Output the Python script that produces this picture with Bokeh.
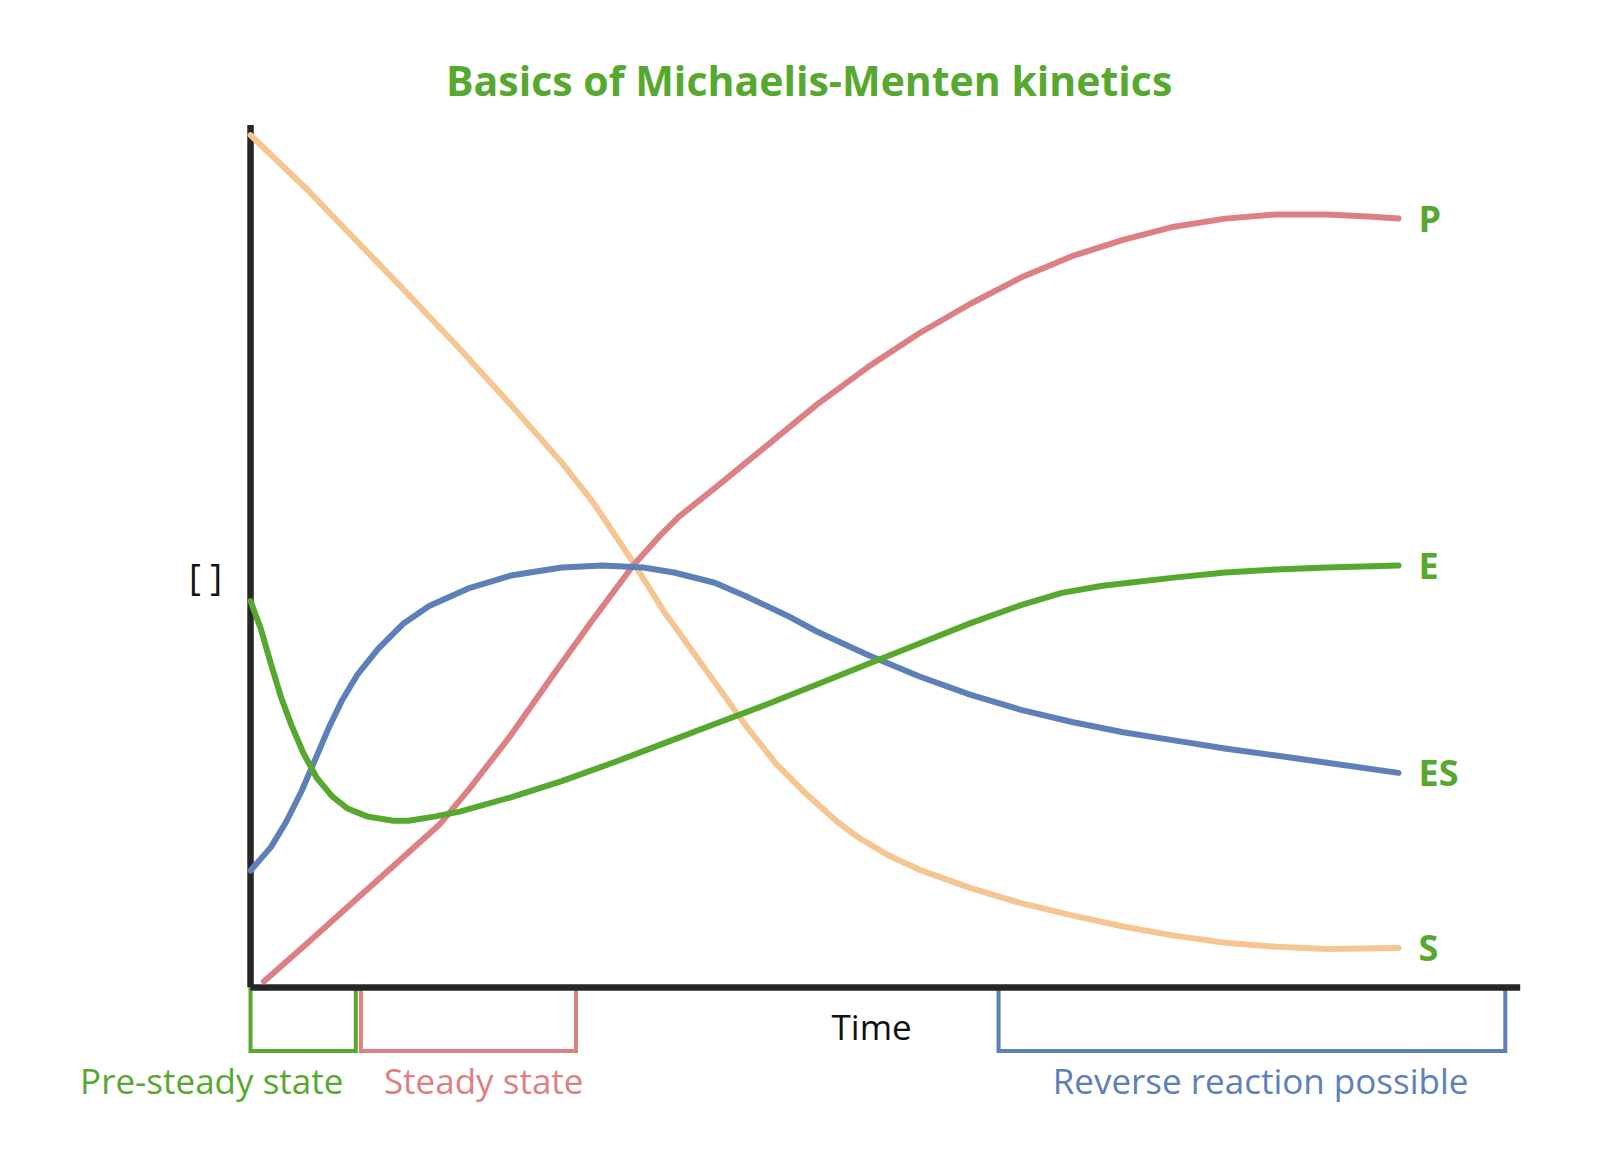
from bokeh.plotting import figure
from bokeh.models import Range1d, Label
from bokeh.core.properties import value
from bokeh.embed import file_html
from bokeh.resources import INLINE

# ---- data (time in arbitrary units 0..100, concentration 0..100) ----
s_t = [0, 4.89, 9.33, 13.78, 18.22, 22.67, 27.11, 29.78, 33.33, 36.0, 38.67, 40.44, 43.11,
       45.78, 48.44, 51.11, 52.89, 55.56, 58.22, 62.67, 67.11, 71.56, 76.0, 80.44, 84.89,
       89.33, 93.78, 100]
s_c = [100, 93.68, 87.47, 81.26, 74.94, 68.38, 61.58, 57.04, 49.88, 44.15, 39.14, 35.80, 30.79,
       26.25, 22.67, 19.45, 17.66, 15.51, 13.84, 11.69, 9.90, 8.47, 7.16, 6.09, 5.25,
       4.77, 4.53, 4.65]

p_t = [1.16, 4.89, 9.33, 13.78, 16.44, 19.11, 22.67, 26.22, 29.78, 33.33, 35.56, 37.33, 40.44,
       44.89, 49.33, 53.78, 58.22, 62.67, 67.11, 71.56, 76.0, 80.44, 84.89, 89.33, 93.78,
       97.33, 100]
p_c = [0.72, 5.13, 10.50, 15.87, 19.09, 23.39, 29.59, 36.40, 43.08, 49.52, 52.86, 55.25, 58.59,
       63.48, 68.38, 72.79, 76.73, 80.19, 83.29, 85.80, 87.71, 89.26, 90.21, 90.69, 90.69,
       90.45, 90.21]

es_t = [0, 1.78, 3.11, 4.44, 5.78, 6.84, 8.0, 9.33, 11.11, 13.33, 15.56, 19.11, 22.67, 27.11,
        30.67, 34.22, 36.89, 40.44, 43.11, 46.67, 49.33, 53.78, 58.22, 62.67, 67.11, 71.56,
        76.0, 80.44, 84.89, 89.33, 93.78, 100]
es_c = [13.72, 16.47, 19.45, 23.03, 27.21, 30.55, 33.77, 36.75, 39.74, 42.72, 44.75, 46.90,
        48.33, 49.28, 49.52, 49.28, 48.69, 47.49, 45.94, 43.68, 41.77, 39.02, 36.52, 34.37,
        32.58, 31.15, 29.95, 29.00, 28.04, 27.21, 26.37, 25.18]

e_t = [0, 0.89, 1.78, 2.67, 3.56, 4.62, 5.78, 7.11, 8.44, 10.22, 12.44, 13.78, 16.0, 18.22,
       22.67, 27.11, 31.56, 36.0, 40.44, 44.89, 49.33, 53.78, 58.22, 62.67, 67.11, 70.67,
       74.22, 80.44, 84.89, 89.33, 93.78, 100]
e_c = [45.35, 42.12, 37.95, 34.01, 30.79, 27.45, 24.58, 22.43, 21.00, 20.05, 19.57, 19.57,
       20.05, 20.64, 22.32, 24.22, 26.37, 28.64, 30.91, 33.17, 35.56, 37.95, 40.33, 42.72,
       44.87, 46.30, 47.14, 48.09, 48.69, 49.05, 49.28, 49.52]

series_names = ["S", "P", "ES", "E"]

phase_names = ["Pre-steady state", "Steady state", "Reverse reaction possible"]
phase_start = [0, 9.61, 65.16]
phase_end = [9.17, 28.35, 109.3]
phase_label_t = [-3.38, 20.31, 87.98]

axis_t_max = 110.6
axis_c_max = 101.2

# ---- styles ----
ORANGE = "#F5C592"
RED = "#DC8084"
BLUE = "#5E80B9"
GREEN = "#56A82E"
DARK = "#262626"
FONT = "Open Sans"

p = figure(width=1584, height=1158, x_range=Range1d(-21.78, 116.2),
           y_range=Range1d(-20.06, 115.8), output_backend="svg",
           toolbar_location=None, min_border=0,
           x_axis_location=None, y_axis_location=None)
p.grid.visible = False
p.outline_line_color = None
p.background_fill_color = "white"

# phase brackets (drawn first so the axis covers their tops)
bottom = -7.45
cols = [GREEN, RED, BLUE]
for a, b, col in zip(phase_start, phase_end, cols):
    p.line([a, a, b, b], [0, bottom, bottom, 0], line_color=col, line_width=4,
           line_join="miter")
p.text(x=phase_label_t, y=[-10.94] * 3, text=phase_names,
       text_align="center", text_baseline="alphabetic", text_color=cols,
       text_font=value(FONT), text_font_size="35px")

# axes
p.segment(x0=[0, 0], y0=[0, 0], x1=[0, axis_t_max], y1=[axis_c_max, 0],
          line_color=DARK, line_width=6.5)

# curves
for t, c, col in [(s_t, s_c, ORANGE), (p_t, p_c, RED), (es_t, es_c, BLUE), (e_t, e_c, GREEN)]:
    p.line(t, c, line_color=col, line_width=6, line_join="round", line_cap="round")

# series labels at curve ends
ends = [(s_t[-1], s_c[-1]), (p_t[-1], p_c[-1]), (es_t[-1], es_c[-1]), (e_t[-1], e_c[-1])]
p.text(x=[e[0] for e in ends], y=[e[1] for e in ends], text=series_names,
       x_offset=20, text_align="left", text_baseline="middle",
       text_color=GREEN, text_font=value(FONT), text_font_style="bold",
       text_font_size="36px")

# axis labels
p.add_layout(Label(x=54.1, y=-4.63, text="Time", text_align="center",
                   text_baseline="alphabetic", text_color="#111111",
                   text_font=FONT, text_font_size="35px"))
p.add_layout(Label(x=-3.92, y=48.25, text="[ ]", text_align="center",
                   text_baseline="middle", text_color="#111111",
                   text_font=FONT, text_font_size="36px", text_font_style="normal"))

# title
p.add_layout(Label(x=48.66, y=106.43, text="Basics of Michaelis-Menten kinetics",
                   text_align="center", text_baseline="alphabetic", text_color=GREEN,
                   text_font=FONT, text_font_style="bold", text_font_size="41px"))

open("out.html", "w").write(file_html(p, INLINE))
